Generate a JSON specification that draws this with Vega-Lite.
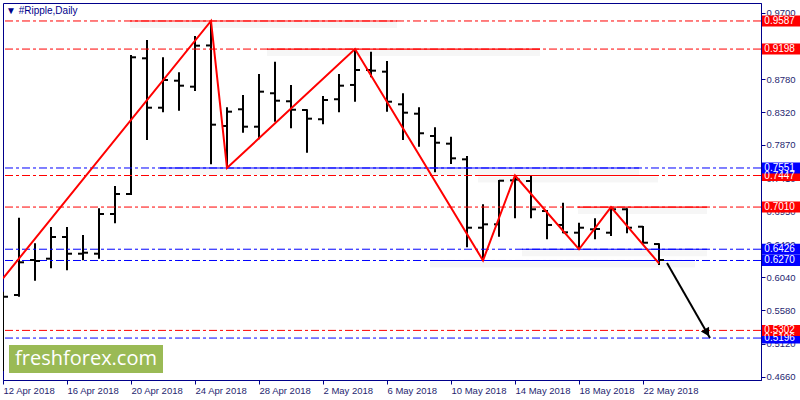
{
  "$schema": "https://vega.github.io/schema/vega-lite/v6.json",
  "width": 758,
  "height": 377,
  "autosize": {"type": "none"},
  "padding": {"left": 3, "top": 3, "right": 39, "bottom": 20},
  "background": "white",
  "title": {"text": "▼ #Ripple,Daily", "anchor": "start", "orient": "top", "frame": "group", "offset": -11, "dx": 3, "dy": 10, "baseline": "alphabetic", "font": "Liberation Sans", "fontSize": 10, "fontWeight": "normal", "color": "#00008b"},
  "config": {
    "view": {"stroke": "#00008b", "strokeWidth": 1},
    "axis": {"labelFont": "Liberation Sans", "labelFontSize": 9.5, "labelColor": "#1f1f70", "domainColor": "#00008b", "tickColor": "#00008b", "grid": false, "tickSize": 4, "domainWidth": 1, "labelOverlap": false, "labelFlush": false, "labelBound": false}
  },
  "datasets": {
    "bars": [
      {"date": "2018-04-12", "open": 0.4900, "high": 0.5838, "low": 0.4739, "close": 0.5768},
      {"date": "2018-04-13", "open": 0.5792, "high": 0.6863, "low": 0.5768, "close": 0.6245},
      {"date": "2018-04-14", "open": 0.6277, "high": 0.6508, "low": 0.5990, "close": 0.6263},
      {"date": "2018-04-15", "open": 0.6295, "high": 0.6734, "low": 0.6162, "close": 0.6595},
      {"date": "2018-04-16", "open": 0.6595, "high": 0.6734, "low": 0.6134, "close": 0.6364},
      {"date": "2018-04-17", "open": 0.6364, "high": 0.6623, "low": 0.6273, "close": 0.6378},
      {"date": "2018-04-18", "open": 0.6364, "high": 0.6993, "low": 0.6295, "close": 0.6914},
      {"date": "2018-04-19", "open": 0.6914, "high": 0.7302, "low": 0.6785, "close": 0.7191},
      {"date": "2018-04-20", "open": 0.7191, "high": 0.9116, "low": 0.7177, "close": 0.9084},
      {"date": "2018-04-21", "open": 0.9070, "high": 0.9324, "low": 0.7939, "close": 0.8386},
      {"date": "2018-04-22", "open": 0.8386, "high": 0.9084, "low": 0.8322, "close": 0.8770},
      {"date": "2018-04-23", "open": 0.8760, "high": 0.8876, "low": 0.8345, "close": 0.8691},
      {"date": "2018-04-24", "open": 0.8677, "high": 0.9379, "low": 0.8617, "close": 0.9245},
      {"date": "2018-04-25", "open": 0.9248, "high": 0.9587, "low": 0.7602, "close": 0.8151},
      {"date": "2018-04-26", "open": 0.8133, "high": 0.8392, "low": 0.7551, "close": 0.8331},
      {"date": "2018-04-27", "open": 0.8364, "high": 0.8562, "low": 0.8040, "close": 0.8123},
      {"date": "2018-04-28", "open": 0.8123, "high": 0.8853, "low": 0.7948, "close": 0.8608},
      {"date": "2018-04-29", "open": 0.8586, "high": 0.9023, "low": 0.8192, "close": 0.8483},
      {"date": "2018-04-30", "open": 0.8475, "high": 0.8701, "low": 0.8101, "close": 0.8358},
      {"date": "2018-05-01", "open": 0.8354, "high": 0.8364, "low": 0.7763, "close": 0.8234},
      {"date": "2018-05-02", "open": 0.8226, "high": 0.8548, "low": 0.8156, "close": 0.8493},
      {"date": "2018-05-03", "open": 0.8503, "high": 0.8853, "low": 0.8322, "close": 0.8691},
      {"date": "2018-05-04", "open": 0.8701, "high": 0.9198, "low": 0.8469, "close": 0.8908},
      {"date": "2018-05-05", "open": 0.8908, "high": 0.9162, "low": 0.8807, "close": 0.8899},
      {"date": "2018-05-06", "open": 0.8885, "high": 0.9033, "low": 0.8331, "close": 0.8469},
      {"date": "2018-05-07", "open": 0.8433, "high": 0.8586, "low": 0.7939, "close": 0.8317},
      {"date": "2018-05-08", "open": 0.8303, "high": 0.8392, "low": 0.7846, "close": 0.8032},
      {"date": "2018-05-09", "open": 0.7994, "high": 0.8115, "low": 0.7491, "close": 0.7901},
      {"date": "2018-05-10", "open": 0.7888, "high": 0.7985, "low": 0.7606, "close": 0.7685},
      {"date": "2018-05-11", "open": 0.7671, "high": 0.7717, "low": 0.6453, "close": 0.6724},
      {"date": "2018-05-12", "open": 0.6724, "high": 0.7048, "low": 0.6270, "close": 0.6771},
      {"date": "2018-05-13", "open": 0.6771, "high": 0.7385, "low": 0.6599, "close": 0.7375},
      {"date": "2018-05-14", "open": 0.7380, "high": 0.7447, "low": 0.6854, "close": 0.7390},
      {"date": "2018-05-15", "open": 0.7371, "high": 0.7440, "low": 0.6854, "close": 0.6979},
      {"date": "2018-05-16", "open": 0.6955, "high": 0.6969, "low": 0.6563, "close": 0.6762},
      {"date": "2018-05-17", "open": 0.6762, "high": 0.7070, "low": 0.6647, "close": 0.6660},
      {"date": "2018-05-18", "open": 0.6655, "high": 0.6793, "low": 0.6426, "close": 0.6724},
      {"date": "2018-05-19", "open": 0.6702, "high": 0.6854, "low": 0.6563, "close": 0.6706},
      {"date": "2018-05-20", "open": 0.6655, "high": 0.7010, "low": 0.6609, "close": 0.6979},
      {"date": "2018-05-21", "open": 0.6979, "high": 0.6993, "low": 0.6647, "close": 0.6724},
      {"date": "2018-05-22", "open": 0.6738, "high": 0.6748, "low": 0.6508, "close": 0.6516},
      {"date": "2018-05-23", "open": 0.6498, "high": 0.6508, "low": 0.6207, "close": 0.6277}
    ],
    "zigzag": [
      {"date": "2018-04-12", "price": 0.6023},
      {"date": "2018-04-25", "price": 0.9587},
      {"date": "2018-04-26", "price": 0.7551},
      {"date": "2018-05-04", "price": 0.9198},
      {"date": "2018-05-12", "price": 0.6270},
      {"date": "2018-05-14", "price": 0.7447},
      {"date": "2018-05-18", "price": 0.6426},
      {"date": "2018-05-20", "price": 0.7010},
      {"date": "2018-05-23", "price": 0.6230}
    ],
    "levels": [
      {"price": 0.5196, "type": "support"},
      {"price": 0.5302, "type": "resistance"},
      {"price": 0.6270, "type": "support"},
      {"price": 0.6426, "type": "support"},
      {"price": 0.7010, "type": "resistance"},
      {"price": 0.7447, "type": "resistance"},
      {"price": 0.7551, "type": "support"},
      {"price": 0.9198, "type": "resistance"},
      {"price": 0.9587, "type": "resistance"}
    ],
    "segments": [
      {"price": 0.9587, "type": "resistance", "start": "2018-04-19T22:30:00Z", "end": "2018-05-06T15:00:00Z"},
      {"price": 0.9198, "type": "resistance", "start": "2018-04-28T12:00:00Z", "end": "2018-05-15T13:30:00Z"},
      {"price": 0.7551, "type": "support", "start": "2018-04-21T19:30:00Z", "end": "2018-05-21T18:00:00Z"},
      {"price": 0.7447, "type": "resistance", "start": "2018-05-11T16:30:00Z", "end": "2018-05-22T22:30:00Z"},
      {"price": 0.7010, "type": "resistance", "start": "2018-05-17T22:30:00Z", "end": "2018-05-26T00:00:00Z"},
      {"price": 0.6426, "type": "support", "start": "2018-05-14T10:30:00Z", "end": "2018-05-26T00:00:00Z"},
      {"price": 0.6270, "type": "support", "start": "2018-05-08T16:30:00Z", "end": "2018-05-25T06:00:00Z"}
    ],
    "arrow": [
      {"date": "2018-05-23T12:00:00Z", "price": 0.6235},
      {"date": "2018-05-26T04:30:00Z", "price": 0.5196}
    ],
    "arrowHead": [
      {"date": "2018-05-26T00:00:00Z", "price": 0.5269}
    ],
    "watermark": [
      {"label": "freshforex.com"}
    ]
  },
  "layer": [
    {
      "data": {"name": "bars"},
      "mark": {"type": "rule", "color": "black", "strokeWidth": 2, "clip": true},
      "encoding": {
        "x": {"field": "date", "type": "temporal", "title": null,
          "scale": {"type": "utc", "domain": [{"year": 2018, "month": 4, "date": 12, "utc": true}, {"year": 2018, "month": 5, "date": 29, "hours": 9, "utc": true}]},
          "axis": {"orient": "bottom", "format": "%-d %b %Y", "labelAlign": "left", "labelBaseline": "top", "labelPadding": 1, "labelOverlap": false, "labelFlush": false, "labelBound": false, "tickCount": 30,
            "values": [
              {"year": 2018, "month": 4, "date": 12, "utc": true},
              {"year": 2018, "month": 4, "date": 16, "utc": true},
              {"year": 2018, "month": 4, "date": 20, "utc": true},
              {"year": 2018, "month": 4, "date": 24, "utc": true},
              {"year": 2018, "month": 4, "date": 28, "utc": true},
              {"year": 2018, "month": 5, "date": 2, "utc": true},
              {"year": 2018, "month": 5, "date": 6, "utc": true},
              {"year": 2018, "month": 5, "date": 10, "utc": true},
              {"year": 2018, "month": 5, "date": 14, "utc": true},
              {"year": 2018, "month": 5, "date": 18, "utc": true},
              {"year": 2018, "month": 5, "date": 22, "utc": true}
            ]}},
        "y": {"field": "low", "type": "quantitative", "title": null,
          "scale": {"domain": [0.4615, 0.9836], "zero": false, "nice": false},
          "axis": {"orient": "right", "format": ".4f", "labelPadding": 1, "labelOverlap": false, "labelFlush": false, "labelBaseline": "middle", "tickCount": 30,
            "values": [0.97, 0.924, 0.878, 0.832, 0.787, 0.741, 0.695, 0.649, 0.604, 0.558, 0.512, 0.466]}},
        "y2": {"field": "high"}
      }
    },
    {
      "data": {"name": "levels"},
      "mark": {"type": "rule", "strokeWidth": 1, "strokeDash": [8, 3, 3, 3]},
      "encoding": {
        "y": {"field": "price", "type": "quantitative", "title": null},
        "color": {"field": "type", "type": "nominal", "legend": null, "scale": {"domain": ["resistance", "support"], "range": ["#ff0000", "#0000ff"]}}
      }
    },
    {
      "data": {"name": "segments"},
      "mark": {"type": "rule", "strokeWidth": 6, "color": "#000000", "opacity": 0.035, "yOffset": 4},
      "encoding": {
        "x": {"field": "start", "type": "temporal", "title": null},
        "x2": {"field": "end"},
        "y": {"field": "price", "type": "quantitative", "title": null}
      }
    },
    {
      "data": {"name": "segments"},
      "mark": {"type": "rule", "strokeWidth": 1.2},
      "encoding": {
        "x": {"field": "start", "type": "temporal", "title": null},
        "x2": {"field": "end"},
        "y": {"field": "price", "type": "quantitative", "title": null},
        "color": {"field": "type", "type": "nominal", "legend": null}
      }
    },
    {
      "data": {"name": "bars"},
      "mark": {"type": "rule", "color": "black", "strokeWidth": 2, "xOffset": -5, "clip": true},
      "encoding": {
        "x": {"field": "date", "type": "temporal", "title": null},
        "x2": {"field": "date"},
        "y": {"field": "open", "type": "quantitative", "title": null}
      }
    },
    {
      "data": {"name": "bars"},
      "mark": {"type": "rule", "color": "black", "strokeWidth": 2, "x2Offset": 5, "clip": true},
      "encoding": {
        "x": {"field": "date", "type": "temporal", "title": null},
        "x2": {"field": "date"},
        "y": {"field": "close", "type": "quantitative", "title": null}
      }
    },
    {
      "data": {"name": "zigzag"},
      "mark": {"type": "line", "color": "#ff0000", "strokeWidth": 2, "clip": true},
      "encoding": {
        "x": {"field": "date", "type": "temporal", "title": null},
        "y": {"field": "price", "type": "quantitative", "title": null}
      }
    },
    {
      "data": {"name": "arrow"},
      "mark": {"type": "line", "color": "#000000", "strokeWidth": 2},
      "encoding": {
        "x": {"field": "date", "type": "temporal", "title": null},
        "y": {"field": "price", "type": "quantitative", "title": null}
      }
    },
    {
      "data": {"name": "arrowHead"},
      "mark": {"type": "point", "shape": "triangle-down", "filled": true, "color": "#000000", "opacity": 1, "size": 90, "angle": 330},
      "encoding": {
        "x": {"field": "date", "type": "temporal", "title": null},
        "y": {"field": "price", "type": "quantitative", "title": null}
      }
    },
    {
      "data": {"name": "watermark"},
      "mark": {"type": "rect", "color": "#9aba55"},
      "encoding": {
        "x": {"datum": {"year": 2018, "month": 4, "date": 12, "hours": 9, "utc": true}, "type": "temporal"},
        "x2": {"datum": {"year": 2018, "month": 4, "date": 22, "utc": true}},
        "y": {"datum": 0.5100, "type": "quantitative"},
        "y2": {"datum": 0.4712}
      }
    },
    {
      "data": {"name": "watermark"},
      "mark": {"type": "text", "font": "Open Sans", "fontSize": 20, "color": "white", "align": "center", "baseline": "middle"},
      "encoding": {
        "x": {"datum": {"year": 2018, "month": 4, "date": 17, "hours": 4, "minutes": 30, "utc": true}, "type": "temporal"},
        "y": {"datum": 0.4906, "type": "quantitative"},
        "text": {"field": "label"}
      }
    },
    {
      "data": {"name": "levels"},
      "mark": {"type": "rule", "strokeWidth": 11, "strokeCap": "butt"},
      "encoding": {
        "x": {"datum": {"year": 2018, "month": 5, "date": 29, "hours": 10, "minutes": 30, "utc": true}, "type": "temporal"},
        "x2": {"datum": {"year": 2018, "month": 5, "date": 31, "hours": 19, "minutes": 30, "utc": true}},
        "y": {"field": "price", "type": "quantitative", "title": null},
        "color": {"field": "type", "type": "nominal", "legend": null}
      }
    },
    {
      "data": {"name": "levels"},
      "mark": {"type": "text", "font": "Liberation Sans", "fontSize": 10, "fill": "white", "align": "left", "baseline": "middle"},
      "encoding": {
        "x": {"datum": {"year": 2018, "month": 5, "date": 29, "hours": 14, "utc": true}, "type": "temporal"},
        "y": {"field": "price", "type": "quantitative", "title": null},
        "text": {"field": "price", "type": "quantitative", "format": ".4f"}
      }
    }
  ]
}
